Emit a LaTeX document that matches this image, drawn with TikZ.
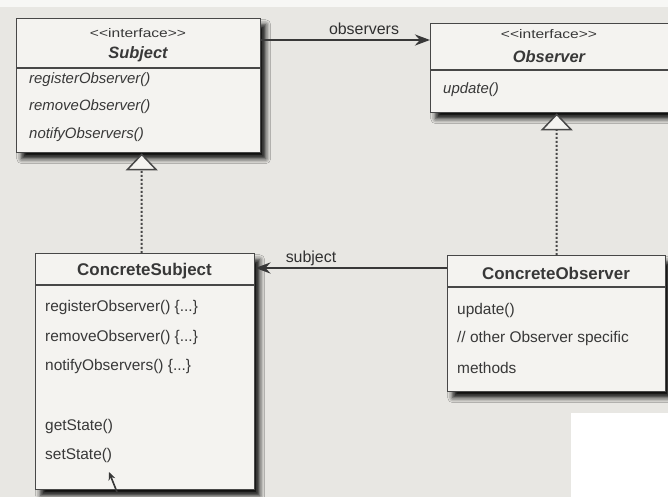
\documentclass[tikz,border=0pt]{standalone}
\usepackage{fontspec}
\setmainfont{Liberation Sans}
\usepackage{graphicx}
\usetikzlibrary{arrows.meta,shadows.blur}

\definecolor{paper}{HTML}{E8E7E3}
\definecolor{card}{HTML}{F4F3F0}
\definecolor{ink}{HTML}{383838}
\definecolor{edge}{HTML}{474747}

\tikzset{
  classbox/.style={draw=edge, line width=1.4bp, fill=card, inner sep=0pt,
    anchor=north west,
    blur shadow={shadow xshift=5bp, shadow yshift=-6bp,
                 shadow blur radius=5bp, shadow opacity=95}},
  divider/.style={draw=edge, line width=1.3bp},
  stereo/.style={text=ink, inner sep=0pt,
    font=\fontsize{12.5}{12.5}\selectfont},
  ifacename/.style={text=ink, inner sep=0pt,
    font=\fontsize{16.5}{16.5}\selectfont\bfseries\itshape},
  classname/.style={text=ink, inner sep=0pt,
    font=\fontsize{17}{17}\selectfont\bfseries},
  member/.style={text=ink, inner sep=0pt, anchor=west,
    font=\fontsize{15.5}{15.5}\selectfont},
  absmember/.style={member, font=\fontsize{15}{15}\selectfont\itshape},
  rolelabel/.style={text=ink!85!black, inner sep=0pt,
    font=\fontsize{16}{16}\selectfont},
  assoc/.style={draw=ink, line width=2.6bp,
    -{Stealth[length=15bp,width=11bp]}},
  realize/.style={draw=edge, line width=2bp, dash pattern=on 2bp off 2bp,
    -{Triangle[open,length=17bp,width=32bp,fill=card,line width=1.5bp]}},
  pointer/.style={draw=ink, line width=1.6bp,
    -{Stealth[length=8bp,width=7bp]}},
}

\newcommand{\stereotype}{\scalebox{1.25}[1]{<{}<interface>{}>}}

\begin{document}
\begin{tikzpicture}[x=1bp,y=-1bp]
  \useasboundingbox (0,0) rectangle (668,497);
  \clip (0,0) rectangle (668,497);

  % paper
  \fill[paper] (0,0) rectangle (668,497);
  \fill[paper!35!white] (0,0) rectangle (668,7);
  \fill[white] (571,413) rectangle (668,497);

  % Subject interface
  \node[classbox, minimum width=244bp, minimum height=134bp] (subj) at (16,18) {};
  \draw[divider] (subj.west |- 0,68) -- (subj.east |- 0,68);
  \node[stereo] (subjStereo) at (138,33) {\stereotype};
  \node[ifacename] (subjName) at (138,54) {Subject};
  \node[absmember] (subjM1) at (29,80) {registerObserver()};
  \node[absmember] (subjM2) at (29,107) {removeObserver()};
  \node[absmember] (subjM3) at (29,135) {notifyObservers()};

  % Observer interface
  \node[classbox, minimum width=252bp, minimum height=89bp] (obs) at (430,23) {};
  \draw[divider] (obs.west |- 0,70) -- (obs.east |- 0,70);
  \node[stereo] (obsStereo) at (549,34) {\stereotype};
  \node[ifacename] (obsName) at (549,57) {Observer};
  \node[absmember] (obsM1) at (443,90) {update()};

  % ConcreteSubject
  \node[classbox, minimum width=219bp, minimum height=236bp] (csubj) at (35,253) {};
  \draw[divider] (csubj.west |- 0,285) -- (csubj.east |- 0,285);
  \node[classname] (csubjName) at (144.5,271) {ConcreteSubject};
  \node[member] (csubjM1) at (45,308) {registerObserver() \{...\}};
  \node[member] (csubjM2) at (45,338) {removeObserver() \{...\}};
  \node[member] (csubjM3) at (45,367) {notifyObservers() \{...\}};
  \node[member] (csubjM4) at (45,427) {getState()};
  \node[member] (csubjM5) at (45,456) {setState()};

  % ConcreteObserver
  \node[classbox, minimum width=218bp, minimum height=136bp] (cobs) at (447,255) {};
  \draw[divider] (cobs.west |- 0,287) -- (cobs.east |- 0,287);
  \node[classname] (cobsName) at (556,273) {ConcreteObserver};
  \node[member] (cobsM1) at (457,311) {update()};
  \node[member] (cobsM2) at (457,339) {// other Observer specific};
  \node[member] (cobsM3) at (457,368) {methods};

  % associations
  \draw[assoc] (subj.east |- 0,40) -- (obs.west |- 0,40);
  \node[rolelabel] (lblObservers) at (364,29) {observers};
  \draw[assoc] (cobs.west |- 0,268) -- (csubj.east |- 0,268);
  \node[rolelabel] (lblSubject) at (311,258) {subject};

  % realizations
  \draw[realize] ([xshift=-3.5bp]csubj.north) -- ([xshift=3bp]subj.south);
  \draw[realize] (cobs.north) -- (obs.south);

  % pointer at setState()
  \coordinate (noteTail) at (117,492);
  \coordinate (noteTip) at (109,472);
  \draw[pointer] (noteTail) -- (noteTip);
\end{tikzpicture}
\end{document}
